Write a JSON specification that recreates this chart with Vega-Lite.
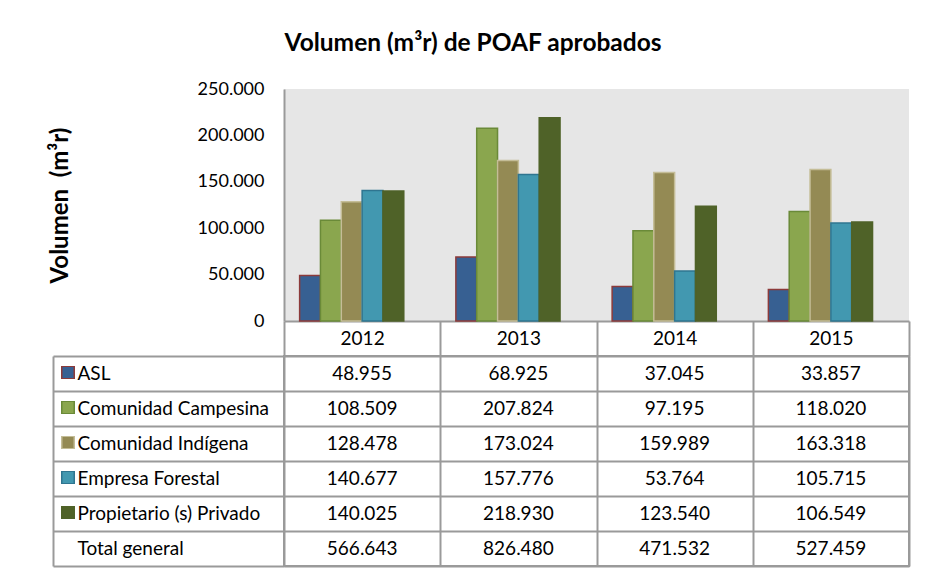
{
  "$schema": "https://vega.github.io/schema/vega-lite/v6.json",
  "padding": {"left": 48, "top": 30, "right": 5, "bottom": 5},
  "bounds": "flush",
  "spacing": 35,
  "title": {"text": "Volumen (m³r) de POAF aprobados", "fontSize": 24.5, "font": "Lato", "fontWeight": "bold", "color": "#000000", "offset": 24, "anchor": "middle", "dx": -6},
  "config": {
    "locale": {"number": {"decimal": ",", "thousands": ".", "grouping": [3], "currency": ["", ""]}},
    "font": "Lato",
    "axis": {"labelFont": "Lato", "titleFont": "Lato"}
  },
  "datasets": {
    "vol": [
      {"serie": "ASL", "year": "2012", "value": 48955},
      {"serie": "ASL", "year": "2013", "value": 68925},
      {"serie": "ASL", "year": "2014", "value": 37045},
      {"serie": "ASL", "year": "2015", "value": 33857},
      {"serie": "Comunidad Campesina", "year": "2012", "value": 108509},
      {"serie": "Comunidad Campesina", "year": "2013", "value": 207824},
      {"serie": "Comunidad Campesina", "year": "2014", "value": 97195},
      {"serie": "Comunidad Campesina", "year": "2015", "value": 118020},
      {"serie": "Comunidad Indígena", "year": "2012", "value": 128478},
      {"serie": "Comunidad Indígena", "year": "2013", "value": 173024},
      {"serie": "Comunidad Indígena", "year": "2014", "value": 159989},
      {"serie": "Comunidad Indígena", "year": "2015", "value": 163318},
      {"serie": "Empresa Forestal", "year": "2012", "value": 140677},
      {"serie": "Empresa Forestal", "year": "2013", "value": 157776},
      {"serie": "Empresa Forestal", "year": "2014", "value": 53764},
      {"serie": "Empresa Forestal", "year": "2015", "value": 105715},
      {"serie": "Propietario (s) Privado", "year": "2012", "value": 140025},
      {"serie": "Propietario (s) Privado", "year": "2013", "value": 218930},
      {"serie": "Propietario (s) Privado", "year": "2014", "value": 123540},
      {"serie": "Propietario (s) Privado", "year": "2015", "value": 106549},
      {"serie": "Total general", "year": "2012", "value": 566643},
      {"serie": "Total general", "year": "2013", "value": 826480},
      {"serie": "Total general", "year": "2014", "value": 471532},
      {"serie": "Total general", "year": "2015", "value": 527459}
    ]
  },
  "vconcat": [
    {
      "width": 625,
      "height": 232,
      "view": {"fill": "#e6e6e6", "stroke": null},
      "data": {"name": "vol"},
      "transform": [{"filter": "datum.serie !== 'Total general'"}],
      "mark": {"type": "bar", "strokeWidth": 1.5},
      "encoding": {
        "x": {
          "field": "year", "type": "nominal",
          "scale": {"paddingInner": 0, "paddingOuter": 0},
          "axis": {"title": null, "orient": "bottom", "domainColor": "#9a9a9a", "domainWidth": 2, "tickBand": "extent", "tickSize": 35, "tickColor": "#9a9a9a", "tickWidth": 2, "labelAngle": 0, "labelFontSize": 19, "labelColor": "#000000", "labelBaseline": "middle", "labelPadding": -18}
        },
        "xOffset": {
          "field": "serie", "type": "nominal",
          "scale": {"domain": ["ASL", "Comunidad Campesina", "Comunidad Indígena", "Empresa Forestal", "Propietario (s) Privado", "Total general"], "paddingInner": 0, "paddingOuter": 0.75}
        },
        "y": {
          "field": "value", "type": "quantitative",
          "scale": {"domain": [0, 250000], "nice": false},
          "axis": {"title": "Volumen\u00a0\u00a0(m³r)", "titleFontSize": 24, "titleFontWeight": "bold", "titleColor": "#000000", "titlePadding": 125, "values": [0, 50000, 100000, 150000, 200000, 250000], "format": ",d", "grid": false, "ticks": false, "domainColor": "#9a9a9a", "domainWidth": 2, "labelFontSize": 18, "labelColor": "#000000", "labelPadding": 20}
        },
        "fill": {
          "field": "serie", "type": "nominal",
          "scale": {"domain": ["ASL", "Comunidad Campesina", "Comunidad Indígena", "Empresa Forestal", "Propietario (s) Privado"], "range": ["#376092", "#8aa64e", "#948a54", "#4298b0", "#4f6228"]},
          "legend": {"orient": "none", "legendX": -223, "legendY": 277, "direction": "vertical", "title": null, "symbolType": "square", "symbolSize": 156, "symbolStrokeWidth": 1.5, "symbolOpacity": 1, "labelExpr": "''", "labelFontSize": 10, "clipHeight": 13, "rowPadding": 22, "padding": 0}
        },
        "stroke": {
          "field": "serie", "type": "nominal",
          "scale": {"domain": ["ASL", "Comunidad Campesina", "Comunidad Indígena", "Empresa Forestal", "Propietario (s) Privado"], "range": ["#8c3a3a", "#6a8a38", "#c4bd97", "#2f7590", "#4f6228"]},
          "legend": {"orient": "none", "legendX": -223, "legendY": 277, "direction": "vertical", "title": null, "symbolType": "square", "symbolSize": 156, "symbolStrokeWidth": 1.5, "symbolOpacity": 1, "labelExpr": "''", "labelFontSize": 10, "clipHeight": 13, "rowPadding": 22, "padding": 0}
        }
      }
    },
    {
      "width": 625,
      "height": 210,
      "view": {"stroke": "#9a9a9a", "strokeWidth": 2},
      "data": {"name": "vol"},
      "mark": {"type": "text", "fontSize": 19, "color": "#000000", "font": "Lato"},
      "encoding": {
        "x": {
          "field": "year", "type": "nominal",
          "scale": {"paddingInner": 0, "paddingOuter": 0},
          "axis": {"title": null, "labels": false, "ticks": false, "domain": false, "grid": true, "tickBand": "extent", "gridColor": "#9a9a9a", "gridWidth": 2}
        },
        "y": {
          "field": "serie", "type": "nominal",
          "scale": {"domain": ["ASL", "Comunidad Campesina", "Comunidad Indígena", "Empresa Forestal", "Propietario (s) Privado", "Total general"], "paddingInner": 0, "paddingOuter": 0},
          "axis": {"title": null, "offset": 231, "domain": true, "domainColor": "#9a9a9a", "domainWidth": 2, "ticks": true, "tickSize": -231, "tickBand": "extent", "tickColor": "#9a9a9a", "tickWidth": 2, "grid": true, "gridColor": "#9a9a9a", "gridWidth": 2, "labelAlign": "left", "labelPadding": 207, "labelFontSize": 19, "labelColor": "#000000", "labelLimit": 300}
        },
        "text": {"field": "value", "type": "quantitative", "format": ",d"}
      }
    }
  ]
}
